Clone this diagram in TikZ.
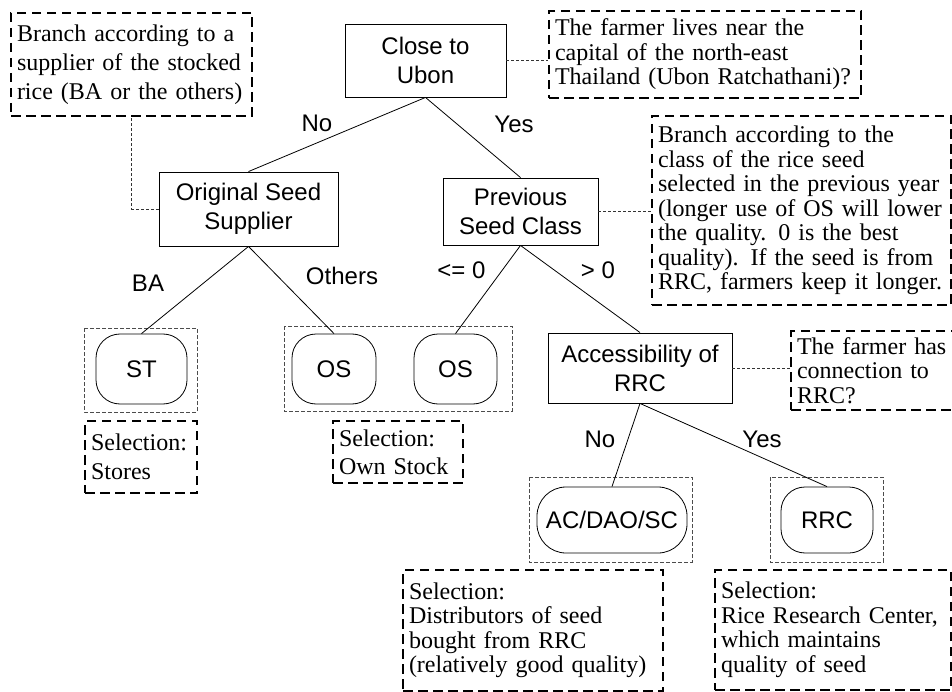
\documentclass[tikz,border=0pt]{standalone}
\usepackage{fontspec}
\setmainfont{Liberation Serif}
\setsansfont{Liberation Sans}
\begin{document}
\begin{tikzpicture}[x=1pt,y=-1pt,
  decision/.style={draw, line width=0.9pt, align=center, inner sep=0pt,
    font=\sffamily\fontsize{24}{29}\selectfont},
  leaf/.style={draw, line width=0.8pt, rounded corners=24pt, inner sep=0pt,
    font=\sffamily\fontsize{24}{29}\selectfont},
  group/.style={draw=black!70, line width=0.8pt, dash pattern=on 4pt off 2pt},
  note/.style={draw, line width=1.6pt, dash pattern=on 9.5pt off 5.5pt,
    align=left, inner xsep=6pt, inner ysep=0pt,
    font=\rmfamily\fontsize{24}{24.5}\selectfont},
  link/.style={draw=black!80, line width=0.8pt, dash pattern=on 3pt off 2pt},
  branch/.style={line width=0.8pt},
  lbl/.style={anchor=base, inner sep=0pt, font=\sffamily\fontsize{24}{29}\selectfont}]

\useasboundingbox (0,0) rectangle (952,692);

% decision nodes
\node[decision, minimum width=161pt, minimum height=73pt] (close) at (425.5,60.5) {Close to\\Ubon};
\node[decision, minimum width=179pt, minimum height=74pt] (orig) at (248.5,209) {Original Seed\\Supplier};
\node[decision, minimum width=155pt, minimum height=67pt] (prev) at (520.5,211.5) {Previous\\Seed Class};
\node[decision, minimum width=184pt, minimum height=70pt] (acc) at (640,368) {Accessibility of\\RRC};

% groups around the outcomes
\draw[group] (84,328) rectangle (197,412);
\draw[group] (284,326) rectangle (512,411);
\draw[group] (529,477) rectangle (692,562);
\draw[group] (770,477) rectangle (883,562);

% outcome nodes
\node[leaf, minimum width=91pt, minimum height=70pt] (st) at (141.5,369) {ST};
\node[leaf, minimum width=84pt, minimum height=70pt] (os1) at (334,369) {OS};
\node[leaf, minimum width=83pt, minimum height=70pt] (os2) at (455.5,369) {OS};
\node[leaf, minimum width=150pt, minimum height=66pt, rounded corners=29pt] (ac) at (612,520) {AC/DAO/SC};
\node[leaf, minimum width=92pt, minimum height=66pt] (rrc) at (827,520) {RRC};

% explanatory notes
\node[note, minimum width=312pt, text width=300pt, minimum height=87pt] (nclose) at (705,54.5)
  {The farmer lives near the\\capital of the north-east\\Thailand (Ubon Ratchathani)?};
\node[note, minimum width=241pt, text width=229pt, minimum height=103pt,
  font=\rmfamily\fontsize{24}{29}\selectfont] (norig) at (131.5,64.5)
  {Branch according to a\\supplier of the stocked\\rice (BA or the others)};
\node[note, minimum width=299pt, text width=287pt, minimum height=189pt] (nprev) at (801.5,210.5)
  {Branch according to the\\class of the rice seed\\selected in the previous year\\(longer use of OS will lower\\the quality. 0 is the best\\quality). If the seed is from\\RRC, farmers keep it longer.};
\node[note, minimum width=165pt, text width=153pt, minimum height=79pt] (nacc) at (873.5,370.5)
  {The farmer has\\connection to\\RRC?};
\node[note, minimum width=112pt, text width=100pt, minimum height=72pt,
  font=\rmfamily\fontsize{24}{29}\selectfont] (nst) at (141,457)
  {Selection:\\Stores};
\node[note, minimum width=130pt, text width=118pt, minimum height=62pt,
  font=\rmfamily\fontsize{24}{28}\selectfont] (nos) at (398,452)
  {Selection:\\Own Stock};
\node[note, minimum width=260pt, text width=248pt, minimum height=121pt] (nac) at (533,630.5)
  {Selection:\\Distributors of seed\\bought from RRC\\(relatively good quality)};
\node[note, minimum width=236pt, text width=224pt, minimum height=120pt] (nrrc) at (833,630)
  {Selection:\\Rice Research Center,\\which maintains\\quality of seed};

% links from decisions to their notes
\draw[link] (close.east) -- (close.east -| nclose.west);
\draw[link] (orig.west) -| (norig.south);
\draw[link] (prev.east) -- (prev.east -| nprev.west);
\draw[link] (acc.east) -- (acc.east -| nacc.west);

% tree branches
\draw[branch] (close.south) -- (orig.north);
\draw[branch] (close.south) -- (prev.north);
\draw[branch] (orig.south) -- (st.north);
\draw[branch] (orig.south) -- (os1.north);
\draw[branch] (prev.south) -- (os2.north);
\draw[branch] (prev.south) -- (acc.north);
\draw[branch] (acc.south) -- (ac.north);
\draw[branch] (acc.south) -- (rrc.north);

% branch labels
\node[lbl] (lno1) at (317,132) {No};
\node[lbl] (lyes1) at (514,133) {Yes};
\node[lbl] (lba) at (148,292) {BA};
\node[lbl] (loth) at (342,285) {Others};
\node[lbl] (lle) at (461.5,279) {<= 0};
\node[lbl] (lgt) at (598,279) {> 0};
\node[lbl] (lno2) at (600,447) {No};
\node[lbl] (lyes2) at (762,447) {Yes};
\end{tikzpicture}
\end{document}
